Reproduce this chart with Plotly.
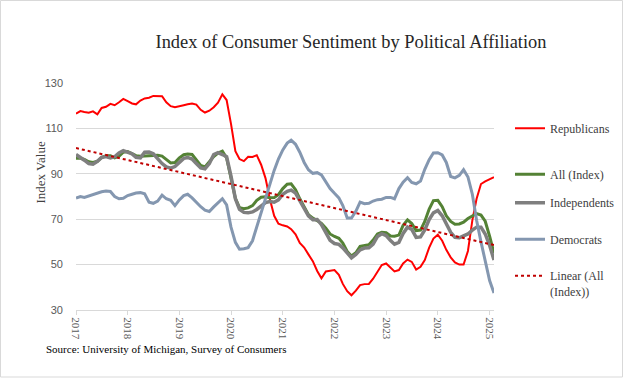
import numpy as np
import pandas as pd
import plotly.graph_objects as go

months = pd.date_range("2017-01-01", periods=98, freq="MS")

republicans = [116.5, 117.6, 117.2, 116.9, 117.5, 116.2, 119.0, 119.5, 120.8, 120.2, 121.5, 123.0,
               122.0, 121.0, 120.6, 122.3, 123.2, 123.5, 124.3, 124.4, 124.2, 121.5, 119.8, 119.3,
               119.6, 120.2, 120.6, 121.0, 120.5, 118.2, 117.0, 117.8, 119.3, 121.3, 125.0, 122.5,
               112.0, 100.0, 96.5, 95.6, 97.5, 97.4, 98.2, 94.0, 88.0, 79.0, 71.5, 68.0,
               67.3, 66.8, 65.6, 63.3, 59.5, 57.5, 54.5, 51.5, 47.2, 44.0, 47.0, 47.2,
               47.6, 45.5, 41.5, 38.3, 36.5, 38.5, 41.0, 41.4, 41.5, 43.8, 47.0, 49.8,
               50.5, 48.6, 47.0, 47.6, 50.5, 52.2, 51.2, 47.8, 49.0, 52.0, 57.5, 61.5,
               63.2, 60.5, 56.5, 53.2, 51.0, 50.0, 50.0, 56.0, 69.5, 79.0, 85.5, 86.7,
               87.7, 88.5]

all_index = [96.9, 96.9, 96.3, 95.3, 95.0, 95.5, 97.2, 98.0, 98.0, 97.0, 97.8, 99.5,
             99.8, 99.0, 98.0, 97.7, 97.8, 98.2, 98.3, 98.2, 97.8, 96.2, 94.8, 95.0,
             97.0, 98.4, 98.7, 98.5, 96.2, 93.7, 93.0, 95.5, 97.6, 99.1, 100.0, 97.0,
             87.8, 79.2, 75.1, 74.6, 75.0, 76.0, 78.3, 79.7, 79.9, 79.4, 79.5, 80.8,
             83.5, 85.4, 85.6, 83.0, 79.0, 75.5, 72.0, 70.5, 69.5, 68.2, 66.0, 63.5,
             62.4, 61.6, 59.5, 55.8, 53.8, 55.2, 58.0, 58.5, 58.7, 60.8, 63.5, 64.2,
             64.0, 62.6, 62.5, 63.0, 67.3, 69.7, 68.1, 65.0, 65.2, 69.0, 74.5, 78.2,
             78.3, 75.5, 71.5, 69.0, 67.8, 67.9, 68.7, 70.3, 71.3, 72.5, 71.8, 69.1,
             62.5, 55.0]

independents = [98.5, 97.4, 96.0, 94.5, 94.2, 95.5, 97.2, 97.6, 97.0, 97.5, 99.2, 100.2,
                99.5, 98.8, 97.3, 97.0, 99.5, 99.6, 98.8, 96.5, 94.5, 93.0, 92.5, 93.2,
                95.0, 96.8, 97.2, 96.5, 94.5, 92.6, 92.2, 94.5, 98.5, 99.3, 98.5, 97.5,
                89.0, 79.0, 74.3, 73.0, 72.8, 73.2, 74.3, 76.0, 77.3, 77.8, 77.5, 78.5,
                81.0, 82.3, 82.8, 81.5, 78.3, 75.0, 71.5, 69.8, 69.9, 67.6, 64.0, 60.7,
                59.3, 58.9, 57.4, 55.0, 53.0, 54.5, 56.5, 57.3, 57.4, 59.0, 62.4, 63.6,
                62.8, 60.6, 59.0, 59.8, 63.7, 66.5, 65.5, 62.0, 62.2, 65.3, 69.8, 72.8,
                73.8, 71.5, 67.8, 64.2, 62.0, 61.8, 62.7, 63.5, 65.2, 66.5, 66.5, 63.5,
                58.5, 52.0]

democrats = [79.3, 80.0, 79.6, 80.3, 80.9, 81.6, 82.1, 82.4, 82.2, 80.0, 79.0, 79.2,
             80.4, 81.0, 81.5, 81.7, 81.2, 77.5, 77.0, 78.0, 80.6, 79.0, 78.3, 76.0,
             78.5, 80.4, 81.0, 79.4, 77.4, 75.5, 74.0, 73.4, 75.4, 77.4, 79.0, 76.3,
             66.5, 59.8, 56.8, 57.0, 57.5, 60.5, 66.5, 72.5, 79.0, 85.5, 91.5, 96.5,
             100.5, 103.5, 104.8, 103.0, 99.5, 95.0, 91.8, 90.2, 90.5, 89.5, 86.3, 83.5,
             81.4, 79.4, 76.0, 70.5, 70.5, 73.5, 77.5, 76.8, 77.0, 78.0, 78.6, 78.8,
             79.6, 79.6, 79.0, 83.5, 86.3, 88.3, 86.2, 85.6, 86.8, 92.0, 96.2, 99.2,
             99.3, 98.3, 95.0, 88.8, 88.2, 89.3, 91.8, 88.6, 81.0, 69.5, 60.0, 51.0,
             43.0, 37.5]

year_ticks = [f"{y}-01-01" for y in range(2017, 2026)]
year_labels = [str(y) for y in range(2017, 2026)]

# linear trendline of All (Index)
idx = np.arange(len(all_index))
slope, intercept = np.polyfit(idx, np.array(all_index), 1)
trend = intercept + slope * idx

SERIF = "Liberation Serif"
W, H = 625, 379
L, R, T, B = 76, 131, 83, 69
PW, PH = W - L - R, H - T - B


def px_x(px):
    return (px - L) / PW


def px_y(py):
    return (H - B - py) / PH


fig = go.Figure()
fig.add_trace(go.Scatter(x=months, y=republicans, mode="lines", name="Republicans",
                         line=dict(color="#FF0000", width=2), legend="legend"))
fig.add_trace(go.Scatter(x=months, y=all_index, mode="lines", name="All (Index)",
                         line=dict(color="#548235", width=3), legend="legend2"))
fig.add_trace(go.Scatter(x=months, y=independents, mode="lines", name="Independents",
                         line=dict(color="#7F7F7F", width=3.5), legend="legend3"))
fig.add_trace(go.Scatter(x=months, y=democrats, mode="lines", name="Democrats",
                         line=dict(color="#8497B0", width=3), legend="legend4"))
fig.add_trace(go.Scatter(x=months, y=trend, mode="lines", name="Linear (All<br>(Index))",
                         line=dict(color="#C00000", width=2, dash="dot"), legend="legend5"))

leg_font = dict(family=SERIF, size=12, color="#404040")


def legend_at(py, valign="middle"):
    return dict(x=px_x(510), xanchor="left", y=px_y(py), yanchor="middle",
                bgcolor="rgba(0,0,0,0)", font=leg_font, valign=valign,
                itemwidth=30, tracegroupgap=0)


fig.update_layout(
    width=W, height=H,
    margin=dict(l=L, r=R, t=T, b=B, autoexpand=False),
    paper_bgcolor="white", plot_bgcolor="white",
    showlegend=True,
    legend=legend_at(128.3),
    legend2=legend_at(174.3),
    legend3=legend_at(202.7),
    legend4=legend_at(239.3),
    legend5=legend_at(284.0, valign="top"),
    title=dict(text="Index of Consumer Sentiment by Political Affiliation",
               font=dict(family=SERIF, size=18.4, color="#262626"),
               xref="paper", x=px_x(351), xanchor="center",
               yref="container", y=1 - 42 / H, yanchor="middle"),
    xaxis=dict(type="date", range=["2017-01-01", "2025-02-01"],
               tickmode="array", tickvals=year_ticks, ticktext=year_labels,
               tickangle=90, ticks="outside", ticklen=4, tickcolor="#D9D9D9",
               showline=True, linecolor="#D9D9D9", linewidth=1,
               showgrid=False, zeroline=False,
               tickfont=dict(family=SERIF, size=11, color="#595959")),
    yaxis=dict(range=[30, 130], tickmode="array", tickvals=[30, 50, 70, 90, 110, 130],
               showgrid=True, gridcolor="#D9D9D9", gridwidth=1, zeroline=False,
               showline=False, ticks="", ticklabelstandoff=12,
               tickfont=dict(family="Liberation Sans", size=11, color="#595959")),
    annotations=[
        dict(text="Index Value", textangle=-90, xref="paper", yref="paper",
             x=px_x(40), y=px_y(172.5), xanchor="center", yanchor="middle",
             showarrow=False, font=dict(family=SERIF, size=13, color="#404040")),
        dict(text="Source: University of Michigan, Survey of Consumers",
             xref="paper", yref="paper", x=px_x(44), y=px_y(349),
             xanchor="left", yanchor="middle", showarrow=False,
             font=dict(family=SERIF, size=11, color="#000000")),
    ],
    shapes=[
        dict(type="rect", xref="paper", yref="paper",
             x0=px_x(0.5), x1=px_x(622.5), y0=px_y(377), y1=px_y(0.5),
             line=dict(color="#D9D9D9", width=1), fillcolor="rgba(0,0,0,0)", layer="below"),
    ],
)

fig.write_html("out.html", config={"displayModeBar": False},
               post_script="document.body.style.margin='0';")
